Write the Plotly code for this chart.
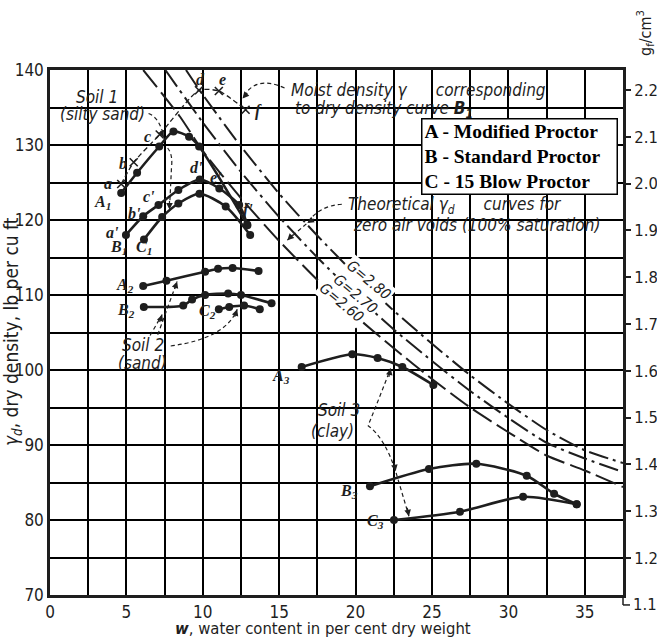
import plotly.graph_objects as go

# ---------------- data ----------------
# Soil 1 (silty sand)
w_A1 = [4.66, 5.70, 7.15, 8.08, 9.10, 9.76, 12.90]
g_A1 = [123.6, 126.3, 129.8, 131.8, 131.1, 129.8, 119.4]
w_B1 = [4.97, 6.10, 7.10, 8.40, 9.80, 11.08, 12.38, 12.92]
g_B1 = [118.0, 120.5, 122.0, 124.0, 125.4, 124.2, 122.0, 119.3]
w_C1 = [6.15, 7.34, 8.40, 9.78, 11.50, 13.10]
g_C1 = [117.4, 120.4, 122.2, 123.5, 121.8, 118.0]
# moist density points a..f for curve B1
w_moist = [4.66, 5.48, 7.18, 9.75, 11.05, 12.80]
g_moist = [124.8, 127.7, 131.4, 137.3, 137.2, 134.7]

# Soil 2 (sand)
w_A2 = [6.10, 7.62, 10.15, 11.00, 11.95, 13.65]
g_A2 = [111.2, 111.9, 113.1, 113.5, 113.6, 113.2]
w_B2 = [6.14, 8.72, 9.30, 10.15, 11.66, 12.50, 14.50]
g_B2 = [108.4, 108.6, 109.4, 110.0, 110.2, 110.0, 108.9]
w_C2 = [11.05, 11.73, 12.70, 13.73]
g_C2 = [108.1, 108.4, 108.6, 108.1]

# Soil 3 (clay)
w_A3 = [16.47, 19.78, 21.44, 23.06, 25.09]
g_A3 = [100.4, 102.1, 101.6, 100.4, 98.0]
w_B3 = [20.94, 24.80, 27.90, 31.20, 32.99, 34.47]
g_B3 = [84.5, 86.8, 87.5, 85.9, 83.5, 82.1]
w_C3 = [22.51, 26.83, 30.96, 34.47]
g_C3 = [80.0, 81.1, 83.1, 82.1]

# zero-air-voids curves
w_G280 = [8.9, 10, 12.5, 15, 17.5, 20, 22.5, 25, 27.5, 30, 32.5, 35, 37.5]
g_G280 = [140.0, 136.7, 129.8, 123.5, 117.9, 112.7, 107.9, 103.5, 99.3, 95.5, 92.0, 89.3, 87.6]
w_G270 = [7.55, 10, 12.5, 15, 17.5, 20, 22.5, 25, 27.5, 30, 32.5, 35, 37.5]
g_G270 = [140.0, 133.0, 126.4, 120.4, 115.0, 110.0, 105.4, 101.2, 97.2, 93.6, 90.3, 88.2, 86.4]
w_G260 = [6.1, 8.5, 10, 12.5, 15, 17.5, 20, 22.5, 25, 27.5, 30, 32.5, 35, 37.5]
g_G260 = [140.0, 133.8, 129.2, 122.9, 117.2, 112.0, 107.2, 102.9, 98.8, 95.0, 91.7, 88.6, 86.6, 84.4]

# axes: grid every 2.5 % / 5 lb, labels every 5 % / 10 lb
x_grid = [0, 2.5, 5, 7.5, 10, 12.5, 15, 17.5, 20, 22.5, 25, 27.5, 30, 32.5, 35, 37.5]
x_labels = ["0", "", "5", "", "10", "", "15", "", "20", "", "25", "", "30", "", "35", ""]
y_grid = [70, 75, 80, 85, 90, 95, 100, 105, 110, 115, 120, 125, 130, 135, 140]
y_labels = ["70", "", "80", "", "90", "", "100", "", "110", "", "120", "", "130", "", "140"]
y2_ticks = [1.2, 1.3, 1.4, 1.5, 1.6, 1.7, 1.8, 1.9, 2.0, 2.1, 2.2]
y2_labels = ["1.2", "1.3", "1.4", "1.5", "1.6", "1.7", "1.8", "1.9", "2.0", "2.1", "2.2"]
y2_low_tick = 1.1
legend_lines = ["A - Modified Proctor", "B - Standard Proctor", "C - 15 Blow Proctor"]
LB_PER_G = 62.43

# ---------------- styling ----------------
INK = "#1e1e1e"
NARROW = "Liberation Sans Narrow, DejaVu Sans Condensed, Arial Narrow, DejaVu Sans, sans-serif"
SERIF = "Liberation Serif, Times New Roman, serif"
FIG_W, FIG_H = 657, 637
M = dict(l=50, r=34, t=70, b=42)
PLOT_H = FIG_H - M["t"] - M["b"]
PLOT_W = FIG_W - M["l"] - M["r"]

fig = go.Figure()

def zav(w, g, dash):
    fig.add_trace(go.Scatter(x=w, y=g, mode="lines", line=dict(color=INK, width=2, dash=dash, shape="spline", smoothing=0.6),
                             hoverinfo="skip", showlegend=False))

zav(w_G260, g_G260, "22px,6px")
zav(w_G270, g_G270, "20px,5px,3px,5px")
zav(w_G280, g_G280, "20px,5px,3px,5px")

def curve(w, g, smooth=0.7):
    fig.add_trace(go.Scatter(x=w, y=g, mode="lines+markers",
                             line=dict(color=INK, width=2.6, shape="spline", smoothing=smooth),
                             marker=dict(color=INK, size=8),
                             hoverinfo="skip", showlegend=False))

for w, g in [(w_A1, g_A1), (w_B1, g_B1), (w_C1, g_C1), (w_A2, g_A2), (w_B2, g_B2), (w_C2, g_C2),
             (w_A3, g_A3), (w_B3, g_B3), (w_C3, g_C3)]:
    curve(w, g)

fig.add_trace(go.Scatter(x=w_moist, y=g_moist, mode="lines+markers",
                         line=dict(color=INK, width=1.3, dash="5px,3px", shape="spline", smoothing=0.6),
                         marker=dict(symbol="x-thin", size=8, line=dict(color=INK, width=1.6)),
                         hoverinfo="skip", showlegend=False))

# trace on the g/cm3 axis (A1 peak expressed in g/cm3, invisible) so the axis is drawn
fig.add_trace(go.Scatter(x=[w_A1[3]], y=[g_A1[3] / LB_PER_G], yaxis="y2", mode="markers",
                         marker=dict(size=1, opacity=0), showlegend=False, hoverinfo="skip"))

# ---------------- annotations ----------------
ann = []
def txt(x, y, s, size=17, fam=NARROW, anchor="center", angle=0, color=INK, bg=None):
    d = dict(x=x, y=y, xref="x", yref="y", text=s, showarrow=False, xanchor=anchor, yanchor="middle",
             font=dict(family=fam, size=size, color=color), textangle=angle)
    if bg:
        d["bgcolor"] = bg
    ann.append(d)

def lab(x, y, s, sub=""):
    t = "<b><i>%s</i></b>" % s
    if sub:
        t += "<sub><b><i>%s</i></b></sub>" % sub
    txt(x, y, t, size=16, fam=SERIF)

# curve labels
lab(3.45, 122.3, "A", "1"); lab(4.48, 116.3, "B", "1"); lab(6.12, 116.3, "C", "1")
lab(3.8, 124.9, "a"); lab(4.75, 127.6, "b"); lab(6.35, 131.2, "c")
lab(9.85, 138.8, "d"); lab(11.27, 138.8, "e"); lab(13.65, 134.6, "f")
lab(4.1, 118.3, "a'"); lab(5.55, 120.9, "b'"); lab(6.5, 123.2, "c'")
lab(9.6, 127.0, "d'"); lab(10.85, 125.7, "e'"); lab(12.95, 121.4, "f'")
lab(4.94, 111.3, "A", "2"); lab(5.0, 108.0, "B", "2"); lab(10.29, 107.8, "C", "2")
lab(15.09, 99.1, "A", "3"); lab(19.56, 83.8, "B", "3"); lab(21.31, 79.8, "C", "3")

# notes
txt(3.08, 136.4, "<i>Soil 1</i>")
txt(3.46, 134.2, "<i>(silty sand)</i>")
txt(15.61, 137.3, "<i>Moist density γ&nbsp;&nbsp;&nbsp;&nbsp;&nbsp;&nbsp;corresponding</i>", anchor="left")
txt(15.88, 134.7, "<i>to dry density curve </i><b><i>B</i></b><sub><b><i>1</i></b></sub>", anchor="left")
txt(19.35, 122.0, "<i>Theoretical γ<sub>d</sub>&nbsp;&nbsp;&nbsp;&nbsp;&nbsp;&nbsp;curves for</i>", anchor="left")
txt(19.67, 119.3, "<i>zero air voids (100% saturation)</i>", anchor="left")
txt(6.1, 103.3, "<i>Soil 2</i>")
txt(6.03, 100.9, "<i>(sand)</i>")
txt(18.9, 94.7, "<i>Soil 3</i>")
txt(18.5, 91.9, "<i>(clay)</i>")
txt(20.87, 112.0, "<i>G=2.80</i>", size=15, angle=40, bg="white")
txt(20.0, 110.2, "<i>G=2.70</i>", size=15, angle=40, bg="white")
txt(19.13, 109.0, "<i>G=2.60</i>", size=15, angle=40, bg="white")

# legend box
ann.append(dict(x=30.71, y=128.47, xref="x", yref="y", showarrow=False, align="left",
                text="<br>".join("<b>%s</b>" % s for s in legend_lines),
                font=dict(family=SERIF, size=19.5, color="black"), width=190, height=70,
                bgcolor="white", bordercolor="black", borderwidth=1.5, borderpad=2))

# axis titles (paper coordinates so they are not hidden outside the data range)
ann.append(dict(x=-38 / PLOT_W, y=(595 - 332) / PLOT_H, xref="paper", yref="paper", showarrow=False,
                textangle=-90, xanchor="center", yanchor="middle",
                text="<i>γ<sub>d</sub></i>,&nbsp;dry density,&nbsp;lb&nbsp;per&nbsp;cu&nbsp;ft",
                font=dict(family=NARROW, size=19, color=INK)))
ann.append(dict(x=(322.5 - 50) / PLOT_W, y=-(628 - 595) / PLOT_H, xref="paper", yref="paper",
                showarrow=False, xanchor="center", yanchor="middle",
                text="<b><i>w</i></b>, water content in per cent dry weight",
                font=dict(family=NARROW, size=16.5, color=INK)))
ann.append(dict(x=(646 - 50) / PLOT_W, y=1 + (70 - 33) / PLOT_H, xref="paper", yref="paper",
                showarrow=False, textangle=-90, xanchor="center", yanchor="middle",
                text="g<sub>f</sub>/cm<sup>3</sup>",
                font=dict(family=NARROW, size=16, color=INK)))

# lowest g/cm3 tick (just below the frame)
low_py = (70 - y2_low_tick * LB_PER_G) * 7.5
yb = -low_py / PLOT_H
ann.append(dict(x=1, y=yb, xref="paper", yref="paper", xshift=8, showarrow=False,
                xanchor="left", yanchor="middle", text="%.1f" % y2_low_tick,
                font=dict(family=NARROW, size=16.5, color=INK)))

# arrowheads for leader lines
def arrow(x, y, ax, ay):
    ann.append(dict(x=x, y=y, xref="x", yref="y", text="", showarrow=True, ax=ax, ay=ay,
                    arrowhead=2, arrowsize=1.1, arrowwidth=1.2, arrowcolor=INK))

arrow(7.45, 131.0, -4, -8)
arrow(7.82, 121.4, 0, -10)
arrow(12.6, 136.2, 6, -7)
arrow(16.84, 119.6, 8, -5)
arrow(15.53, 117.3, 7, -7)
arrow(7.34, 107.4, -3, 9)
arrow(8.32, 111.8, -3, 9)
arrow(12.25, 108.1, -3, 9)
arrow(22.29, 100.2, -2, 10)
arrow(22.62, 86.5, -2, -10)
arrow(23.49, 80.5, -2, -10)

# dashed leader paths + the extension of the g/cm3 axis
shapes = []
def leader(path):
    shapes.append(dict(type="path", xref="x", yref="y", path=path,
                       line=dict(color=INK, width=1.2, dash="4px,3px"), layer="above"))

leader("M 6.45,134.2 Q 7.2,133.6 7.45,131.0")
leader("M 7.7,129.6 Q 8.05,128.7 7.95,127.0 L 7.82,121.4")
leader("M 15.35,137.6 Q 13.4,139.4 12.6,136.2")
leader("M 19.1,122.1 Q 17.6,121.9 16.84,119.6 L 15.53,117.3")
leader("M 6.55,104.6 L 7.34,107.4")
leader("M 7.05,104.7 L 8.32,111.8")
leader("M 7.9,103.2 Q 11.5,104.2 12.25,108.1")
leader("M 20.9,93.0 Q 21.6,96.5 22.29,100.2")
leader("M 20.8,92.6 Q 21.9,91.0 22.62,86.5 L 23.49,80.5")

shapes.append(dict(type="line", xref="paper", yref="paper", x0=1, x1=1, y0=0, y1=yb,
                   line=dict(color=INK, width=1.5)))
shapes.append(dict(type="line", xref="paper", yref="paper", x0=1, x1=1 + 7 / PLOT_W, y0=yb, y1=yb,
                   line=dict(color=INK, width=1.5)))

fig.update_layout(
    width=FIG_W, height=FIG_H, autosize=False,
    margin=dict(M, pad=0),
    paper_bgcolor="white", plot_bgcolor="white",
    annotations=ann, shapes=shapes, hovermode=False,
    xaxis=dict(range=[0, 37.5], tickmode="array", tickvals=x_grid, ticktext=x_labels,
               showgrid=True, gridcolor="#000000", gridwidth=1.5, zeroline=False,
               showline=True, linecolor=INK, linewidth=2.5, mirror=True, ticks="",
               tickfont=dict(family=NARROW, size=17, color=INK), automargin=False),
    yaxis=dict(range=[70, 140], tickmode="array", tickvals=y_grid, ticktext=y_labels,
               showgrid=True, gridcolor="#000000", gridwidth=1.5, zeroline=False,
               showline=True, linecolor=INK, linewidth=2.5, mirror=True, ticks="",
               tickfont=dict(family=NARROW, size=17, color=INK), automargin=False),
    yaxis2=dict(range=[70 / LB_PER_G, 140 / LB_PER_G], overlaying="y", side="right",
                tickmode="array", tickvals=y2_ticks, ticktext=y2_labels, ticks="outside", ticklen=7, tickwidth=1.5,
                tickcolor=INK, showline=False, showgrid=False, zeroline=False, automargin=False,
                tickfont=dict(family=NARROW, size=16.5, color=INK)),
)

# remove the default 8px body margin so the 657x637 figure fills the window exactly
fig.write_html("out.html", config={"displayModeBar": False, "responsive": False},
               post_script="document.body.style.margin='0';document.body.style.overflow='hidden';")
